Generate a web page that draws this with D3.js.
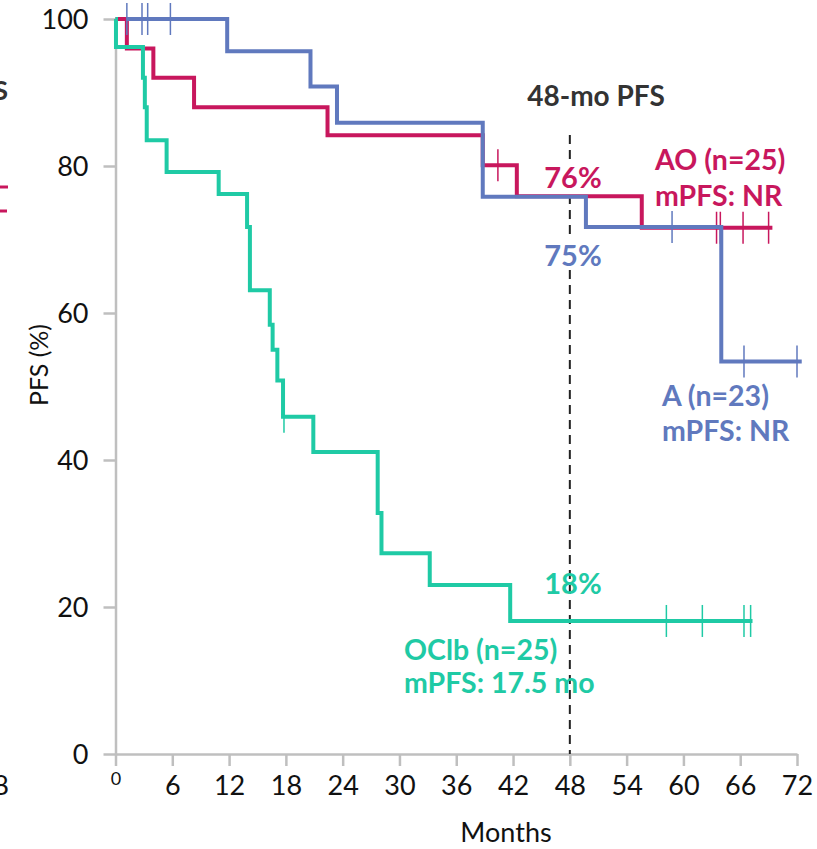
<!DOCTYPE html>
<html>
<head>
<meta charset="utf-8">
<script src="https://cdn.jsdelivr.net/npm/d3@7"></script>
<style>
  html, body { margin: 0; padding: 0; background: #fff; }
  svg { display: block; }
  text { font-family: Lato, "Open Sans", sans-serif; }
</style>
</head>
<body>
<svg id="chart" width="817" height="849"></svg>
<script>
// Axis ticks
const monthTicks = [0, 6, 12, 18, 24, 30, 36, 42, 48, 54, 60, 66, 72];
const pfsTicks = [0, 20, 40, 60, 80, 100];

// AO arm (n=25): event times (months) and PFS (%) after each step
const aoTimes = [0, 1.2, 4.0, 8.3, 22.4, 38.8, 42.4, 55.6, 69.4];
const aoSurv  = [100, 96, 92, 88, 84.2, 80.1, 75.9, 71.6, 71.6];
const aoCensor = [40.4, 63.5, 63.9, 66.3, 69.0];

// A arm (n=23)
const aTimes = [1.2, 11.8, 20.6, 23.4, 38.8, 49.7, 64.0, 72.5];
const aSurv  = [100, 95.6, 90.8, 85.9, 75.8, 71.7, 53.4, 53.4];
const aCensor = [1.2, 2.8, 3.4, 5.8, 58.8, 66.4, 72.0];

// OClb arm (n=25)
const oTimes = [0, 0.05, 2.9, 3.1, 3.3, 5.4, 10.9, 13.9, 14.2, 16.3, 16.6, 17.1, 17.7, 20.9, 27.7, 28.1, 33.2, 41.7, 67.3];
const oSurv  = [100, 96.2, 92, 88, 83.5, 79.2, 76.2, 71.7, 63.1, 58.4, 55, 50.8, 45.9, 41.1, 32.8, 27.3, 23, 18.1, 18.1];
const oCensor = [17.8, 58.2, 62.0, 66.4, 67.1];

// Landmark and arm labels
const landmark = 48;
const landmarkTitle = "48-mo PFS";
const aoPct = "76%", aPct = "75%", oPct = "18%";
const aoLabel = ["AO (n=25)", "mPFS: NR"];
const aLabel = ["A (n=23)", "mPFS: NR"];
const oLabel = ["OClb (n=25)", "mPFS: 17.5 mo"];

const colors = { ao: "#c8175d", a: "#6079be", o: "#1fcaa5" };

const svg = d3.select("#chart");
const x = d3.scaleLinear().domain([0, 72]).range([115.5, 797]);
const y = d3.scaleLinear().domain([0, 100]).range([754, 19]);

// Edge of the adjacent panel
const edge = svg.append("g");
edge.append("text").attr("x", 8).attr("y", 100).attr("text-anchor", "end")
  .attr("font-size", 27).attr("font-weight", 700).attr("fill", "#333").text("S");
edge.append("text").attr("x", 9).attr("y", 795).attr("text-anchor", "end")
  .attr("font-size", 27).attr("fill", "#111").text("8");
edge.selectAll("line").data([[187, 8], [211, 7]]).join("line")
  .attr("x1", 0).attr("x2", d => d[1]).attr("y1", d => d[0]).attr("y2", d => d[0])
  .attr("stroke", colors.ao).attr("stroke-width", 3);

// Y axis
const yAxis = svg.append("g").attr("transform", `translate(${x(0)},0)`)
  .call(d3.axisLeft(y).tickValues(pfsTicks).tickSize(12).tickSizeOuter(0).tickPadding(15));
// X axis
const xAxis = svg.append("g").attr("transform", `translate(0,${y(0)})`)
  .call(d3.axisBottom(x).tickValues(monthTicks).tickSize(12).tickSizeOuter(0));

[yAxis, xAxis].forEach(g => {
  g.select(".domain").attr("stroke", "#bfbfbf").attr("stroke-width", 2.5);
  g.selectAll(".tick line").attr("stroke", "#bfbfbf").attr("stroke-width", 2.5);
  g.selectAll(".tick text").attr("fill", "#111").attr("font-family", "Lato, sans-serif");
});
yAxis.selectAll(".tick text").attr("font-size", 27).attr("dy", "0.36em");
xAxis.selectAll(".tick text").attr("font-size", 27).attr("dy", 0).attr("y", 41);
xAxis.selectAll(".tick text").filter(d => d === 0).attr("font-size", 18).attr("y", 31);

// Axis titles
svg.append("text").attr("x", 506).attr("y", 842).attr("text-anchor", "middle")
  .attr("font-size", 27).attr("fill", "#111").text("Months");
svg.append("text").attr("transform", "translate(48,365) rotate(-90)").attr("text-anchor", "middle")
  .attr("font-size", 25).attr("fill", "#111").text("PFS (%)");

// Landmark dashed line
svg.append("line").attr("x1", x(landmark)).attr("x2", x(landmark))
  .attr("y1", 135).attr("y2", y(0))
  .attr("stroke", "#222").attr("stroke-width", 2).attr("stroke-dasharray", "9,6");
svg.append("text").attr("x", 596).attr("y", 106).attr("text-anchor", "middle")
  .attr("font-size", 28).attr("font-weight", 700).attr("fill", "#333").text(landmarkTitle);

// Kaplan-Meier step curves
const line = d3.line().x(d => x(d[0])).y(d => y(d[1])).curve(d3.curveStepAfter);
function stepAt(times, surv, t) {
  let v = surv[0];
  for (let i = 0; i < times.length; i++) if (times[i] <= t) v = surv[i];
  return v;
}
function drawArm(times, surv, censor, color) {
  const pts = times.map((t, i) => [t, surv[i]]);
  svg.append("path").attr("d", line(pts)).attr("fill", "none")
    .attr("stroke", color).attr("stroke-width", 4).attr("stroke-linejoin", "miter");
  svg.append("g").selectAll("line").data(censor).join("line")
    .attr("x1", d => x(d)).attr("x2", d => x(d))
    .attr("y1", d => y(stepAt(times, surv, d)) - 16)
    .attr("y2", d => y(stepAt(times, surv, d)) + 16)
    .attr("stroke", color).attr("stroke-width", 1.5);
}
drawArm(aoTimes, aoSurv, aoCensor, colors.ao);
drawArm(aTimes, aSurv, aCensor, colors.a);
drawArm(oTimes, oSurv, oCensor, colors.o);

// Percentage labels at the landmark; the AO and A ones sit on a white box
function pctLabel(txt, cx, by, color, boxed) {
  const t = svg.append("text").attr("x", cx).attr("y", by).attr("text-anchor", "middle")
    .attr("font-size", 29).attr("font-weight", 700).attr("fill", color).text(txt);
  if (boxed) {
    const b = t.node().getBBox();
    svg.insert("rect", () => t.node()).attr("x", b.x).attr("y", b.y + 3)
      .attr("width", b.width).attr("height", b.height - 6).attr("fill", "#fff");
  }
}
pctLabel(aoPct, 573, 188, colors.ao, true);
pctLabel(aPct, 573, 266, colors.a, true);
pctLabel(oPct, 573, 594, colors.o, false);

function armLabel(lines, lx, by, gap, color) {
  lines.forEach((t, i) => svg.append("text").attr("x", lx).attr("y", by + i * gap)
    .attr("font-size", 28.5).attr("font-weight", 700).attr("fill", color).text(t));
}
armLabel(aoLabel, 655, 170, 36, colors.ao);
armLabel(aLabel, 662, 406, 35, colors.a);
armLabel(oLabel, 404, 660, 33, colors.o);
</script>
</body>
</html>
